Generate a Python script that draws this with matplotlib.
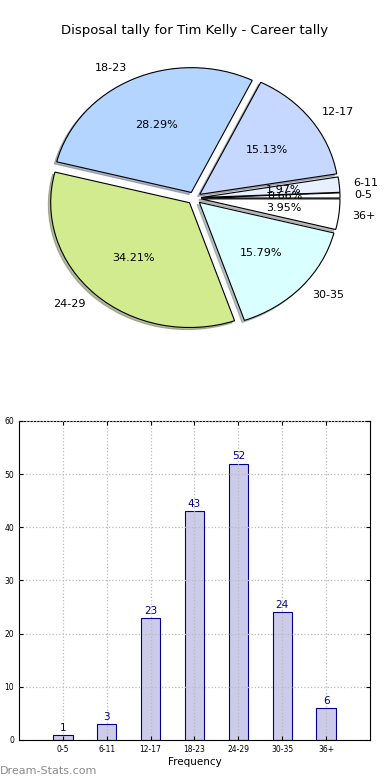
import matplotlib
matplotlib.use("Agg")
import matplotlib.pyplot as plt

categories = ["0-5", "6-11", "12-17", "18-23", "24-29", "30-35", "36+"]
counts = [1, 3, 23, 43, 52, 24, 6]
slice_colors = ["#ffffff", "#e8efff", "#c6d8ff", "#b3d5ff", "#d1eb8e", "#daffff", "#ffffff"]

TITLE = "Disposal tally for Tim Kelly - Career tally"
BAR_FACE = "#ccccea"
BAR_EDGE = "#000088"

fig = plt.figure(figsize=(3.9, 7.8), dpi=100)

# pie
ax1 = fig.add_axes([0.053, 0.546, 0.89, 0.40])
ax1.pie(counts, labels=categories, colors=slice_colors, autopct="%1.2f%%",
        explode=[0.05] * len(counts),
        shadow=dict(ox=-0.012, oy=-0.012, shade=0.5), startangle=0,
        wedgeprops=dict(edgecolor="black", linewidth=0.8),
        textprops=dict(fontsize=8))
ax1.set_aspect("auto")
ax1.set_xlim(-1.25, 1.25)
ax1.set_ylim(-1.25, 1.25)
fig.text(0.5, 0.961, TITLE, ha="center", va="center", fontsize=9.5)

# bars
ax2 = fig.add_axes([0.0487, 0.0513, 0.9, 0.409])
x = list(range(len(categories)))
ax2.bar(x, counts, 0.44, color=BAR_FACE, edgecolor=BAR_EDGE, linewidth=0.8, zorder=1)
for xi, c in zip(x, counts):
    ax2.text(xi, c + 0.4, str(c), ha="center", va="bottom", fontsize=7.5, color=BAR_EDGE)
ax2.set_xlim(-1, 7)
ax2.set_ylim(0, 60)
ax2.set_xticks(x)
ax2.set_xticklabels(categories)
ax2.set_yticks(range(0, 61, 10))
ax2.tick_params(labelsize=5.5, direction="in", top=True, right=True, length=3)
ax2.grid(True, linestyle=":", color="#bbbbbb", linewidth=0.9, zorder=3)
ax2.set_axisbelow(False)
ax2.set_xlabel("Frequency", fontsize=7.5, labelpad=2)

fig.text(0.0, 0.012, "Dream-Stats.com", ha="left", va="center", fontsize=8,
         color="#8a8a8a")

fig.savefig("out.png", dpi=100)
